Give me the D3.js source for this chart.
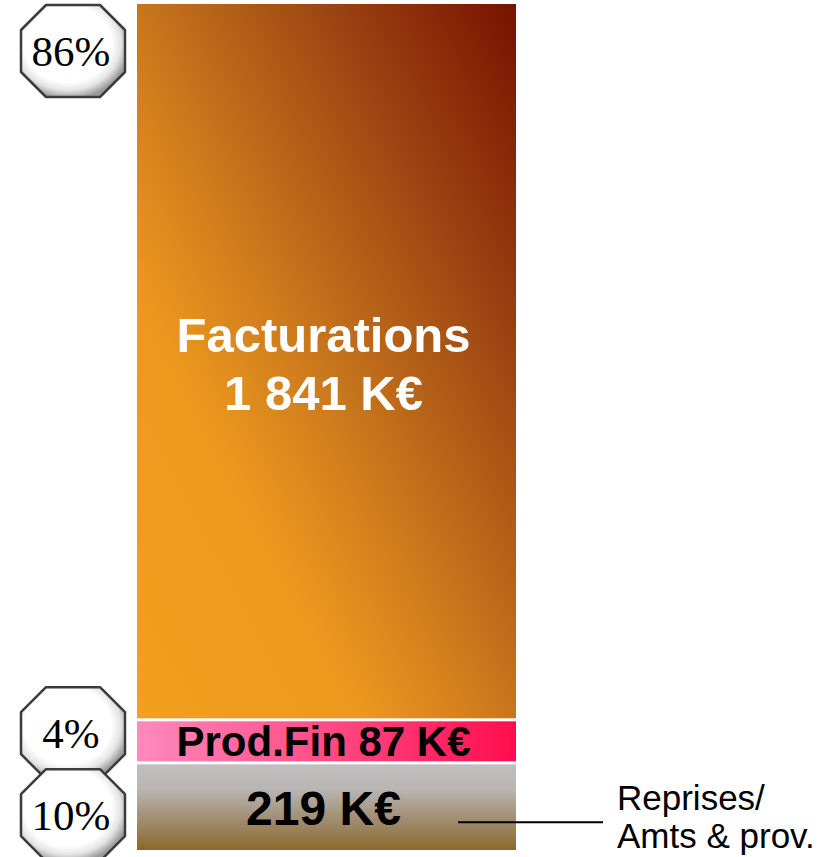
<!DOCTYPE html>
<html>
<head>
<meta charset="utf-8">
<script src="https://cdn.jsdelivr.net/npm/d3@7"></script>
<style>
  body { margin: 0; background: #fff; }
</style>
</head>
<body>
<div id="chart"></div>
<script>
// Data
const categories = ["Facturations", "Prod.Fin", "Reprises/Amts & prov."];
const values = [1841, 87, 219];
const percents = ["86%", "4%", "10%"];
const barLabels = [["Facturations", "1 841 K€"], ["Prod.Fin 87 K€"], ["219 K€"]];
const sideLabel = ["Reprises/", "Amts & prov."];

// Dimensions
const width = 840,
  height = 857;
const barLeft = 137, barRight = 516;
const barTop = 4, barBottom = 850;
const gap = 3;
const minH = 40;

const svg = d3.select("#chart")
  .append("svg")
  .attr("width", width)
  .attr("height", height);

const defs = svg.append("defs");

// Gradients
const gFact = defs.append("linearGradient")
  .attr("id", "grad-fact")
  .attr("x1", 0).attr("y1", 1).attr("x2", 1).attr("y2", 0);
[[0, "#f2a01e"], [0.3, "#ec981e"], [0.5, "#c8761c"], [0.75, "#9c4412"], [1, "#761200"]]
  .forEach(s => gFact.append("stop").attr("offset", s[0]).attr("stop-color", s[1]));

const gPink = defs.append("linearGradient")
  .attr("id", "grad-pink")
  .attr("x1", 0).attr("y1", 0).attr("x2", 1).attr("y2", 0);
[[0, "#ff8abd"], [1, "#ff0d4c"]]
  .forEach(s => gPink.append("stop").attr("offset", s[0]).attr("stop-color", s[1]));

const gGray = defs.append("linearGradient")
  .attr("id", "grad-gray")
  .attr("x1", 0).attr("y1", 0).attr("x2", 0).attr("y2", 1);
[[0, "#c0c0c0"], [0.3, "#b8b5b2"], [0.65, "#a08c70"], [1, "#8a6a2a"]]
  .forEach(s => gGray.append("stop").attr("offset", s[0]).attr("stop-color", s[1]));

const gBadge = defs.append("radialGradient")
  .attr("id", "grad-badge")
  .attr("cx", 0.45).attr("cy", 0.42).attr("r", 0.6);
[[0, "#ffffff"], [0.7, "#ffffff"], [0.85, "#e4e4e4"], [1, "#9a9a9a"]]
  .forEach(s => gBadge.append("stop").attr("offset", s[0]).attr("stop-color", s[1]));

const fills = ["url(#grad-fact)", "url(#grad-pink)", "url(#grad-gray)"];

// Scale for segment heights
const total = d3.sum(values);
const avail = barBottom - barTop - gap * (values.length - 1);
const h = d3.scaleLinear().domain([0, total]).range([0, avail]);

// Heights with a minimum for thin segments, excess taken from the largest
let heights = values.map(v => Math.max(h(v), minH));
const extra = d3.sum(heights) - avail;
const iMax = d3.maxIndex(values);
heights[iMax] -= extra;

// Stack from the bottom: gray, pink, then facturations on top
const order = [2, 1, 0];
const segs = [];
let yCursor = barBottom;
order.forEach(i => {
  const y1 = yCursor, y0 = y1 - heights[i];
  segs[i] = { i: i, y0: y0, y1: y1 };
  yCursor = y0 - gap;
});

svg.selectAll("rect.seg")
  .data(segs)
  .enter()
  .append("rect")
  .attr("class", "seg")
  .attr("x", barLeft)
  .attr("width", barRight - barLeft)
  .attr("y", d => d.y0)
  .attr("height", d => d.y1 - d.y0)
  .attr("fill", d => fills[d.i]);

// Labels inside bar
const cx = (barLeft + barRight) / 2 - 3;
// Facturations
svg.append("text")
  .attr("x", cx)
  .attr("y", (segs[0].y0 + segs[0].y1) / 2 - 9)
  .attr("text-anchor", "middle")
  .style("font-family", "'Liberation Sans', Arial, sans-serif")
  .style("font-weight", "bold")
  .style("font-size", "49px")
  .style("fill", "#fff")
  .selectAll("tspan")
  .data(barLabels[0])
  .enter()
  .append("tspan")
  .attr("x", cx)
  .attr("dy", (d, k) => k === 0 ? 0 : 58)
  .text(d => d);

// Prod.Fin
svg.append("text")
  .attr("x", cx)
  .attr("y", (segs[1].y0 + segs[1].y1) / 2 + 15)
  .attr("text-anchor", "middle")
  .style("font-family", "'Liberation Sans', Arial, sans-serif")
  .style("font-weight", "bold")
  .style("font-size", "42px")
  .style("fill", "#000")
  .text(barLabels[1][0]);

// Reprises value
svg.append("text")
  .attr("x", cx)
  .attr("y", (segs[2].y0 + segs[2].y1) / 2 + 18)
  .attr("text-anchor", "middle")
  .style("font-family", "'Liberation Sans', Arial, sans-serif")
  .style("font-weight", "bold")
  .style("font-size", "48px")
  .style("fill", "#000")
  .text(barLabels[2][0]);

// Leader line and side label
const lineY = (segs[2].y0 + segs[2].y1) / 2 + 15;
svg.append("line")
  .attr("x1", 458).attr("x2", 603)
  .attr("y1", lineY).attr("y2", lineY)
  .attr("stroke", "#000")
  .attr("stroke-width", 2);

svg.append("text")
  .style("font-family", "'Liberation Sans', Arial, sans-serif")
  .style("font-size", "35px")
  .style("fill", "#000")
  .selectAll("tspan")
  .data(sideLabel)
  .enter()
  .append("tspan")
  .attr("x", 617)
  .attr("y", (d, k) => 810 + k * 38)
  .text(d => d);

// Percentage badges (octagons)
const bw = 104, bh = 92, cut = 25, overlap = 10;
let badgeY = segs.map(s => (s.y0 + s.y1) / 2);
badgeY[0] = segs[0].y0 + bh / 2 + 1;
// push the two bottom badges apart
const need = bh - overlap;
const dist = badgeY[2] - badgeY[1];
if (dist < need) {
  const push = (need - dist) / 2;
  badgeY[1] -= push;
  badgeY[2] += push;
}

const octagon = function (w, hh, c) {
  const x0 = -w / 2, x1 = w / 2, y0 = -hh / 2, y1 = hh / 2;
  return [
    [x0 + c, y0], [x1 - c, y0], [x1, y0 + c], [x1, y1 - c],
    [x1 - c, y1], [x0 + c, y1], [x0, y1 - c], [x0, y0 + c]
  ];
};

const badges = svg.selectAll("g.badge")
  .data(percents)
  .enter()
  .append("g")
  .attr("class", "badge")
  .attr("transform", (d, i) => "translate(73," + badgeY[i] + ")");

badges.append("path")
  .attr("d", d3.line()(octagon(bw, bh, cut)) + "Z")
  .attr("fill", "url(#grad-badge)")
  .attr("stroke", "#3c3c3c")
  .attr("stroke-width", 2.5)
  .attr("stroke-linejoin", "round");

badges.append("text")
  .attr("x", -2)
  .attr("y", 15)
  .attr("text-anchor", "middle")
  .style("font-family", "'Liberation Serif', 'Times New Roman', serif")
  .style("font-size", "43px")
  .style("fill", "#000")
  .text(d => d);
</script>
</body>
</html>
